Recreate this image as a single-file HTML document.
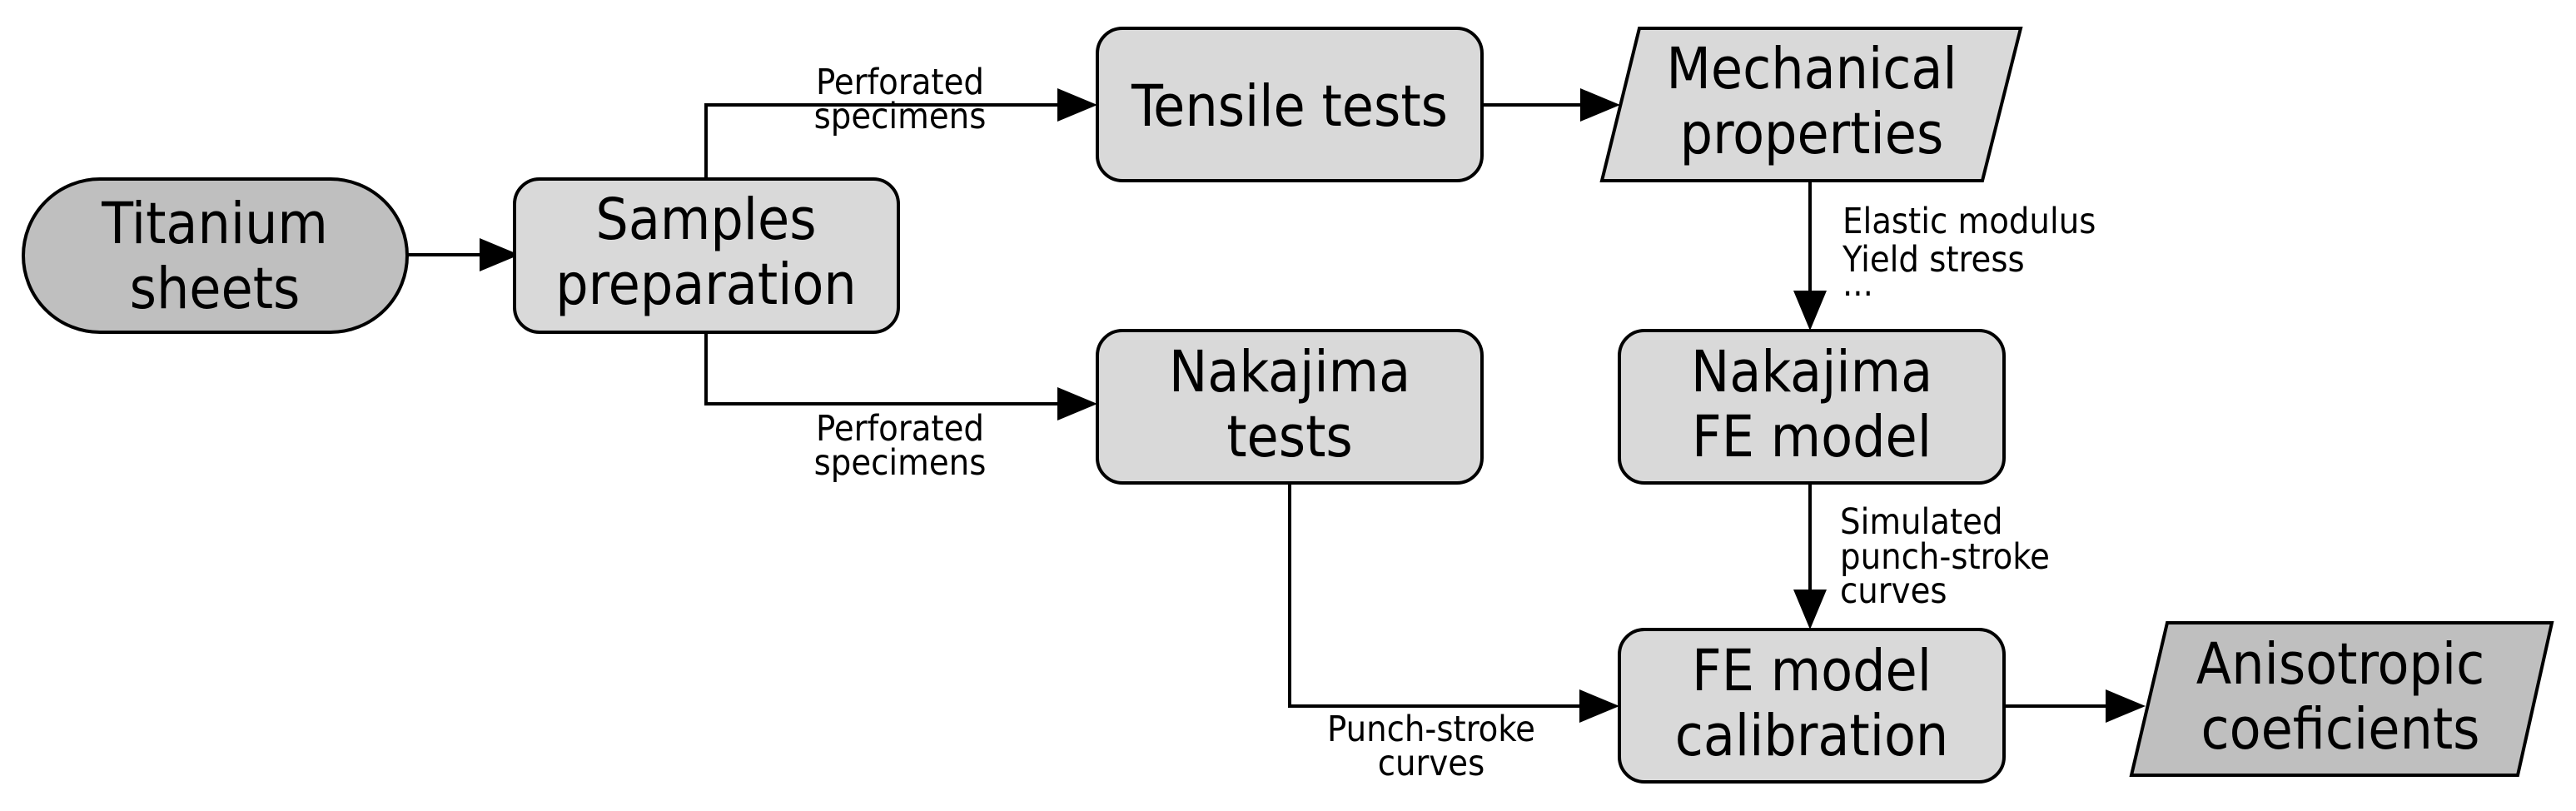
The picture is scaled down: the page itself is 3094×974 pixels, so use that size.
<!DOCTYPE html>
<html><head><meta charset="utf-8"><style>
html,body{margin:0;padding:0;background:#fff;}
svg{display:block;}
text{font-family:"DejaVu Sans Condensed","DejaVu Sans","Liberation Sans",sans-serif;fill:#000;}
.big{font-size:69px;text-anchor:middle;}
.sm{font-size:43px;}
</style></head><body>
<svg width="3094" height="974" viewBox="0 0 3094 974" xmlns="http://www.w3.org/2000/svg">
<g fill="none" stroke="#000" stroke-width="4">
<line x1="489" y1="306" x2="580" y2="306"/>
<polyline points="848,215 848,126 1275,126"/>
<polyline points="848,399 848,485 1275,485"/>
<line x1="1780" y1="126" x2="1900" y2="126"/>
<line x1="2174" y1="217" x2="2174" y2="355"/>
<line x1="2174" y1="580" x2="2174" y2="714"/>
<polyline points="1549,580 1549,848 1903,848"/>
<line x1="2407" y1="848" x2="2535" y2="848"/>
</g>
<g fill="#000">
<polygon points="624,306 576,286 576,326"/>
<polygon points="1318,126 1270,106 1270,146"/>
<polygon points="1318,485 1270,465 1270,505"/>
<polygon points="1946,126 1898,106 1898,146"/>
<polygon points="2174,397 2154,349 2194,349"/>
<polygon points="2174,756 2154,708 2194,708"/>
<polygon points="1945,848 1897,828 1897,868"/>
<polygon points="2577,848 2529,828 2529,868"/>
</g>
<g stroke="#000" stroke-width="4">
<rect x="28" y="215" width="461" height="184" rx="92" fill="#bfbfbf"/>
<rect x="618" y="215" width="461" height="184" rx="30" fill="#d9d9d9"/>
<rect x="1318" y="34" width="462" height="183" rx="30" fill="#d9d9d9"/>
<rect x="1318" y="397" width="462" height="183" rx="30" fill="#d9d9d9"/>
<rect x="1945" y="397" width="462" height="183" rx="30" fill="#d9d9d9"/>
<rect x="1945" y="756" width="462" height="183" rx="30" fill="#d9d9d9"/>
<polygon points="1969,34 2427,34 2381,217 1924,217" fill="#d9d9d9"/>
<polygon points="2603,748 3065,748 3024,931 2560,931" fill="#bfbfbf"/>
</g>
<text class="big" x="258" y="292">Titanium</text>
<text class="big" x="258" y="370">sheets</text>
<text class="big" x="848" y="287">Samples</text>
<text class="big" x="848" y="365">preparation</text>
<text class="big" x="1549" y="151">Tensile tests</text>
<text class="big" x="2176" y="106">Mechanical</text>
<text class="big" x="2176" y="184">properties</text>
<text class="big" x="1549" y="470">Nakajima</text>
<text class="big" x="1549" y="548">tests</text>
<text class="big" x="2176" y="470">Nakajima</text>
<text class="big" x="2176" y="548">FE model</text>
<text class="big" x="2176" y="829">FE model</text>
<text class="big" x="2176" y="907">calibration</text>
<text class="big" x="2811" y="821">Anisotropic</text>
<text class="big" x="2811" y="899">coeficients</text>
<text class="sm" x="1081" y="113" text-anchor="middle">Perforated</text>
<text class="sm" x="1081" y="154" text-anchor="middle">specimens</text>
<text class="sm" x="1081" y="529" text-anchor="middle">Perforated</text>
<text class="sm" x="1081" y="570" text-anchor="middle">specimens</text>
<text class="sm" x="2213" y="280">Elastic modulus</text>
<text class="sm" x="2213" y="326">Yield stress</text>
<text class="sm" x="2213" y="355">...</text>
<text class="sm" x="2210" y="641">Simulated</text>
<text class="sm" x="2210" y="683">punch-stroke</text>
<text class="sm" x="2210" y="724">curves</text>
<text class="sm" x="1719" y="890" text-anchor="middle">Punch-stroke</text>
<text class="sm" x="1719" y="931" text-anchor="middle">curves</text>
</svg>
</body></html>
